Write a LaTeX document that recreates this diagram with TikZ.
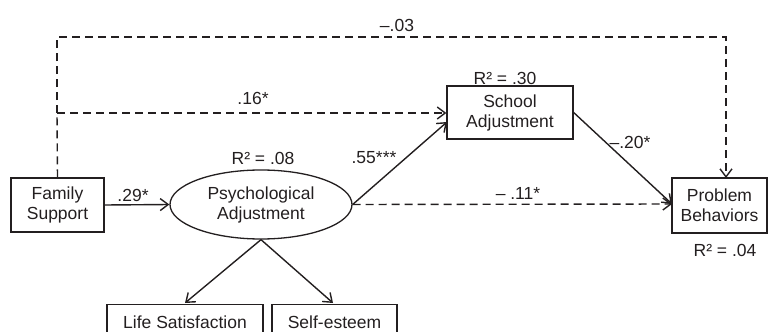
\documentclass[tikz,border=0pt]{standalone}
\usepackage{fontspec}
\setmainfont{Liberation Sans}
\usetikzlibrary{arrows.meta,shapes.geometric}
\definecolor{ink}{HTML}{231F20}
\begin{document}
\begin{tikzpicture}[x=1pt,y=-1pt,
  every node/.style={font=\fontsize{17.5}{20}\selectfont, text=ink},
  box/.style={draw=ink, line width=1.3pt, rectangle, inner sep=0pt, align=center},
  latent/.style={draw=ink, line width=1.3pt, ellipse, inner sep=0pt, align=center, minimum width=182pt, minimum height=69pt},
  path/.style={draw=ink, line width=1.4pt, -{Straight Barb[length=8pt,width=12pt]}},
  dpath/.style={path, dash pattern=on 8pt off 5pt},
  dline/.style={draw=ink, line width=1.4pt, dash pattern=on 8pt off 5pt},
  lab/.style={inner sep=0pt}]
\useasboundingbox (0,0) rectangle (769,332);
\clip (0,0) rectangle (769,332);
% nodes
\node[box, minimum width=93pt, minimum height=54pt] (fs) at (57.5,205) {Family\\Support};
\node[latent] (pa) at (261,204.5) {Psychological\\Adjustment};
\node[box, minimum width=126pt, minimum height=53pt] (sa) at (510,112.5) {School\\Adjustment};
\node[box, minimum width=95pt, minimum height=55pt] (pb) at (719.5,205.5) {Problem\\Behaviors};
\node[box, minimum width=156pt, minimum height=36pt, anchor=north] (ls) at (185,304) {Life Satisfaction};
\node[box, minimum width=125pt, minimum height=36pt, anchor=north] (se) at (334.5,304) {Self-esteem};
% helper coordinates
\coordinate (c1) at (57,113);
\coordinate (c2) at (57,37);
\coordinate (c3) at (726,37);
\coordinate (pbn) at (726,178);
\coordinate (sain) at (447,122);
\coordinate (pbw) at (672,204);
\coordinate (lsn) at (185,303);
\coordinate (sen) at (333,303);
% connectors
\draw[path] (fs.east) -- (pa.west);
\draw[dline] (fs.north) -- (c1);
\draw[dpath] (c1) -- (c2) -- (c3) -- (pbn);
\draw[dpath] (c1) -- (c1 -| sa.west);
\draw[path] (pa.east) -- (sain);
\draw[dpath] (pa.east) -- (pbw);
\draw[path] (sa.east) -- (pbw);
\draw[path] (pa.south) -- (lsn);
\draw[path] (pa.south) -- (sen);
% labels
\node[lab] (l03) at (397,25) {–.03};
\node[lab] (l16) at (253,98) {.16*};
\node[lab] (r08) at (263,158) {R² = .08};
\node[lab] (l55) at (374,158) {.55***};
\node[lab] (l29) at (133,195) {.29*};
\node[lab] (r30) at (505,78) {R² = .30};
\node[lab] (l20) at (630,142) {–.20*};
\node[lab] (l11) at (518,193) {– .11*};
\node[lab] (r04) at (725,250) {R² = .04};
\end{tikzpicture}
\end{document}
